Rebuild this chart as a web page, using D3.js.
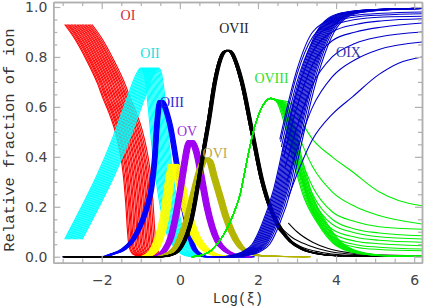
<!DOCTYPE html>
<html>
<head>
<meta charset="utf-8">
<script src="https://cdn.jsdelivr.net/npm/d3@7"></script>
<style>
  body { margin: 0; background: #fff; }
  svg { display: block; }
</style>
</head>
<body>
<div id="chart"></div>
<script>
// tick labels
const xTicks = [-2, 0, 2, 4, 6];
const xMinor = [-3, -2.5, -1.5, -1, -0.5, 0.5, 1, 1.5, 2.5, 3, 3.5, 4.5, 5, 5.5];
const yTicks = [0, 0.2, 0.4, 0.6, 0.8, 1.0];
const yMinor = [0.05, 0.1, 0.15, 0.25, 0.3, 0.35, 0.45, 0.5, 0.55, 0.65, 0.7, 0.75, 0.85, 0.9, 0.95];

// OI (leftmost curve of the family) and the offsets of the other curves
const oIBase = [[-2.95, 0.93], [-2.7, 0.875], [-2.39, 0.787], [-2.1, 0.69], [-1.97, 0.635], [-1.8, 0.57],
  [-1.67, 0.51], [-1.55, 0.43], [-1.45, 0.33], [-1.38, 0.2], [-1.34, 0.1], [-1.3, 0.04], [-1.2, 0.01], [-1.0, 0]];
const oIShifts = [0, 0.03, 0.07, 0.1, 0.13, 0.17, 0.2, 0.24, 0.27, 0.31, 0.34, 0.38, 0.41, 0.45, 0.48, 0.52, 0.55, 0.59, 0.62, 0.66, 0.7];

// OII
const oIIBase = [[-2.95, 0.07], [-2.56, 0.187], [-2.14, 0.32], [-1.71, 0.48], [-1.37, 0.627], [-1.11, 0.733],
  [-1.0, 0.755], [-0.93, 0.74], [-0.85, 0.66], [-0.78, 0.55], [-0.7, 0.42], [-0.6, 0.3], [-0.5, 0.2],
  [-0.35, 0.1], [-0.15, 0.04], [0.05, 0.01], [0.3, 0]];
const oIIShifts = [0, 0.03, 0.06, 0.09, 0.12, 0.15, 0.18, 0.21, 0.24, 0.27, 0.3, 0.33, 0.36, 0.39, 0.42, 0.45];

// OIII
const oIIIBase = [[-3.0, 0], [-2.0, 0], [-1.8, 0.01], [-1.5, 0.03], [-1.25, 0.07], [-1.02, 0.144], [-0.88, 0.21],
  [-0.78, 0.28], [-0.7, 0.4], [-0.65, 0.52], [-0.6, 0.6], [-0.55, 0.625], [-0.48, 0.615], [-0.4, 0.58],
  [-0.3, 0.52], [-0.2, 0.43], [-0.1, 0.33], [0.0, 0.23], [0.1, 0.15], [0.2, 0.08], [0.3, 0.035], [0.45, 0.01],
  [0.6, 0], [1.8, 0]];
const oIIIShifts = [0, 0.015, 0.03, 0.045, 0.06, 0.075, 0.09, 0.105, 0.12];

// OIV
const oIVBase = [[-1.0, 0], [-0.8, 0.02], [-0.65, 0.07], [-0.5, 0.16], [-0.4, 0.27], [-0.33, 0.34], [-0.28, 0.37],
  [-0.2, 0.36], [-0.1, 0.3], [0.0, 0.23], [0.15, 0.14], [0.3, 0.08], [0.5, 0.035], [0.75, 0.01], [1.1, 0]];
const oIVShifts = [0, 0.02, 0.04, 0.06, 0.08, 0.1, 0.12, 0.14, 0.16, 0.18, 0.2, 0.22];

// OV
const oVBase = [[-0.7, 0], [-0.45, 0.03], [-0.3, 0.08], [-0.17, 0.17], [-0.05, 0.28], [0.05, 0.38], [0.12, 0.44],
  [0.2, 0.465], [0.28, 0.45], [0.38, 0.4], [0.5, 0.3], [0.62, 0.2], [0.75, 0.12], [0.9, 0.06], [1.1, 0.025],
  [1.4, 0.005], [1.7, 0]];
const oVShifts = [0, 0.015, 0.03, 0.045, 0.06, 0.075, 0.09, 0.105, 0.12, 0.135, 0.15];

// OVI
const oVIBase = [[-0.6, 0], [-0.35, 0.015], [-0.17, 0.04], [0.0, 0.1], [0.09, 0.14], [0.26, 0.245], [0.4, 0.33],
  [0.5, 0.375], [0.58, 0.395], [0.68, 0.385], [0.8, 0.32], [0.95, 0.24], [1.1, 0.16], [1.25, 0.1],
  [1.45, 0.045], [1.7, 0.015], [2.1, 0.003], [3.2, 0]];
const oVIShifts = [0, 0.016, 0.032, 0.048, 0.064, 0.08, 0.096, 0.112, 0.128, 0.144, 0.16];

// OVII: common curve, small offsets, a few slower tails and one late curve
const oVIIBase = [[-3.0, 0], [-0.5, 0], [-0.2, 0.01], [0.0, 0.04], [0.15, 0.09], [0.26, 0.147], [0.44, 0.3],
  [0.6, 0.45], [0.7, 0.54], [0.86, 0.7], [1.0, 0.79], [1.1, 0.82], [1.2, 0.827], [1.3, 0.815], [1.42, 0.77],
  [1.55, 0.7], [1.8, 0.51], [2.06, 0.31], [2.32, 0.18], [2.57, 0.105], [2.8, 0.06], [3.1, 0.03], [3.5, 0.012],
  [4.0, 0.004], [6.2, 0.002]];
const oVIIShifts = [0, 0.01, 0.02, 0.03, 0.04, 0.05, 0.06, 0.07, 0.08];
const oVIITails = [
  [[2.45, 0.13], [2.75, 0.075], [3.1, 0.04], [3.6, 0.018], [4.2, 0.007], [6.2, 0.002]],
  [[2.5, 0.135], [2.85, 0.08], [3.3, 0.045], [3.8, 0.022], [4.4, 0.01], [5.2, 0.004], [6.2, 0.002]]
];
const oVIILate = [[2.78, 0.135], [3.0, 0.1], [3.4, 0.058], [3.8, 0.033], [4.3, 0.017], [5.0, 0.008], [6.2, 0.004]];

// OVIII: shared rise and crest, a dense group of steep falls, then split tails
const oVIIIHead = [[0.3, 0], [0.6, 0.008], [0.8, 0.025], [1.0, 0.06], [1.2, 0.11], [1.37, 0.17], [1.55, 0.254],
  [1.7, 0.37], [1.88, 0.5], [2.06, 0.585], [2.2, 0.622], [2.32, 0.634], [2.42, 0.63]];
const oVIIIFall = [[2.5, 0.615], [2.65, 0.547], [2.92, 0.374], [3.17, 0.24], [3.52, 0.135], [3.93, 0.053],
  [4.5, 0.015], [5.2, 0.004], [6.2, 0.002]];
const oVIIIFallShifts = [0, 0.03, 0.06, 0.09, 0.12, 0.15, 0.18, 0.21, 0.24];
const oVIIISplit = [
  [[2.6, 0.6], [3.0, 0.37], [3.4, 0.18], [3.9, 0.072], [4.5, 0.038], [5.1, 0.029], [6.2, 0.024]],
  [[2.6, 0.6], [3.0, 0.375], [3.4, 0.19], [3.9, 0.08], [4.5, 0.048], [5.1, 0.038], [6.2, 0.031]],
  [[2.62, 0.6], [3.0, 0.38], [3.4, 0.2], [3.9, 0.095], [4.5, 0.062], [5.1, 0.052], [6.2, 0.044]],
  [[2.64, 0.6], [3.0, 0.39], [3.4, 0.21], [3.9, 0.11], [4.5, 0.078], [5.1, 0.066], [6.2, 0.058]],
  [[2.66, 0.6], [3.0, 0.4], [3.4, 0.23], [3.9, 0.13], [4.5, 0.095], [5.1, 0.08], [6.2, 0.071]],
  [[2.68, 0.6], [3.0, 0.42], [3.4, 0.25], [3.9, 0.15], [4.5, 0.11], [5.1, 0.095], [6.2, 0.084]],
  [[2.7, 0.6], [3.0, 0.44], [3.4, 0.28], [3.9, 0.18], [4.5, 0.14], [5.1, 0.12], [6.2, 0.11]],
  [[2.74, 0.6], [3.0, 0.5], [3.4, 0.36], [3.9, 0.26], [4.5, 0.2], [5.1, 0.165], [6.2, 0.131]],
  [[2.78, 0.62], [3.0, 0.57], [3.4, 0.47], [3.9, 0.4], [4.42, 0.34], [5.1, 0.26], [5.6, 0.225], [6.2, 0.204]]
];

// OIX: dense bundle plus curves with lower plateaus
const oIXBase = [[0.8, 0], [1.0, 0], [1.3, 0.005], [1.6, 0.02], [1.85, 0.05], [2.1, 0.13], [2.4, 0.27], [2.66, 0.45],
  [2.92, 0.63], [3.17, 0.77], [3.5, 0.9], [3.8, 0.955], [4.2, 0.978], [5.0, 0.99], [6.2, 0.995]];
const oIXShifts = [0, 0.03, 0.06, 0.09, 0.12, 0.15, 0.18, 0.21, 0.24, 0.27, 0.3, 0.33, 0.36, 0.4, 0.45];
const oIXLate = [
  [[2.78, 0.24], [3.0, 0.33], [3.4, 0.47], [3.9, 0.57], [4.42, 0.64], [5.1, 0.73], [5.6, 0.775], [6.2, 0.8]],
  [[2.74, 0.3], [3.0, 0.43], [3.4, 0.6], [3.9, 0.72], [4.5, 0.79], [5.1, 0.83], [6.2, 0.86]],
  [[2.7, 0.36], [3.0, 0.52], [3.4, 0.69], [3.9, 0.8], [4.5, 0.855], [5.1, 0.88], [6.2, 0.9]],
  [[2.66, 0.4], [3.0, 0.6], [3.4, 0.77], [3.9, 0.865], [4.5, 0.9], [5.2, 0.92], [6.2, 0.936]],
  [[2.62, 0.42], [3.0, 0.66], [3.4, 0.82], [3.9, 0.9], [4.5, 0.93], [5.2, 0.945], [6.2, 0.953]],
  [[2.6, 0.44], [3.0, 0.7], [3.4, 0.86], [3.9, 0.925], [4.5, 0.95], [5.2, 0.96], [6.2, 0.963]],
  [[2.58, 0.46], [3.0, 0.73], [3.4, 0.88], [3.9, 0.94], [4.5, 0.96], [5.2, 0.968], [6.2, 0.973]],
  [[2.56, 0.47], [3.0, 0.75], [3.4, 0.9], [3.9, 0.95], [4.5, 0.967], [5.2, 0.975], [6.2, 0.98]]
];

const ionLabels = ['OI', 'OII', 'OIII', 'OV', 'OVI', 'OVII', 'OVIII', 'OIX'];

const width = 424, height = 308;
const svg = d3.select('#chart').append('svg').attr('width', width).attr('height', height);

const x = d3.scaleLinear().domain([-3.24, 6.2]).range([53.3, 422]);
const y = d3.scaleLinear().domain([-0.024, 1.02]).range([262.7, 2]);

svg.append('clipPath').attr('id', 'plot').append('rect')
  .attr('x', 53.3).attr('y', 2).attr('width', 422 - 53.3).attr('height', 262.7 - 2);

const plot = svg.append('g').attr('clip-path', 'url(#plot)');

const line = d3.line().x(d => x(d[0])).y(d => y(d[1])).curve(d3.curveMonotoneX);

function drawCurve(pts, color) {
  plot.append('path').datum(pts)
    .attr('d', line)
    .attr('fill', 'none')
    .attr('stroke', color)
    .attr('stroke-width', 1.1);
}

function shifted(base, dx) {
  return base.map(p => [p[0] + dx, p[1]]);
}

function drawFamily(base, shifts, color) {
  shifts.forEach(dx => drawCurve(shifted(base, dx), color));
}

function joinTail(head, tail) {
  return head.filter(p => p[0] < tail[0][0]).concat(tail);
}

// drawing order like the original: OI first, OIX last
drawFamily(oIBase, oIShifts, '#ff0000');
drawFamily(oIIBase, oIIShifts, '#00ffff');
drawFamily(oIIIBase, oIIIShifts, '#0000ff');
drawFamily(oIVBase, oIVShifts, '#ffff00');
drawFamily(oVBase, oVShifts, '#a000f0');
drawFamily(oVIBase, oVIShifts, '#b4b400');
drawFamily(oVIIBase, oVIIShifts, '#000000');
oVIITails.forEach(t => drawCurve(joinTail(oVIIBase, t), '#000000'));
drawCurve(oVIILate, '#000000');
oVIIIFallShifts.forEach(dx => drawCurve(joinTail(oVIIIHead, shifted(oVIIIFall, dx)), '#00ee00'));
oVIIISplit.forEach(t => drawCurve(joinTail(oVIIIHead, t), '#00ee00'));
drawFamily(oIXBase, oIXShifts, '#0000cc');
oIXLate.forEach(c => drawCurve(c, '#0000cc'));

// axes: ticks point inward, box on all four sides
const axisColor = '#b0b0b0';
function styleAxis(g) {
  g.select('.domain').attr('stroke', axisColor).attr('stroke-width', 1.5);
  g.selectAll('.tick line').attr('stroke', axisColor).attr('stroke-width', 1.2);
  g.selectAll('.tick text').attr('fill', '#444')
    .style('font-family', 'DejaVu Sans').style('font-size', '14px');
}

svg.append('g').attr('transform', 'translate(0,262.7)')
  .call(d3.axisBottom(x).tickValues(xTicks).tickSize(-7).tickSizeOuter(0).tickPadding(12).tickFormat(d3.format('d')))
  .call(styleAxis);
svg.append('g').attr('transform', 'translate(0,262.7)')
  .call(d3.axisBottom(x).tickValues(xMinor).tickSize(-4).tickSizeOuter(0).tickFormat(''))
  .call(styleAxis);
svg.append('g').attr('transform', 'translate(0,2)')
  .call(d3.axisTop(x).tickValues(xTicks).tickSize(-7).tickSizeOuter(0).tickFormat(''))
  .call(styleAxis);
svg.append('g').attr('transform', 'translate(0,2)')
  .call(d3.axisTop(x).tickValues(xMinor).tickSize(-4).tickSizeOuter(0).tickFormat(''))
  .call(styleAxis);

svg.append('g').attr('transform', 'translate(53.3,0)')
  .call(d3.axisLeft(y).tickValues(yTicks).tickSize(-7).tickSizeOuter(0).tickPadding(6).tickFormat(d3.format('.1f')))
  .call(styleAxis);
svg.append('g').attr('transform', 'translate(53.3,0)')
  .call(d3.axisLeft(y).tickValues(yMinor).tickSize(-4).tickSizeOuter(0).tickFormat(''))
  .call(styleAxis);
svg.append('g').attr('transform', 'translate(422,0)')
  .call(d3.axisRight(y).tickValues(yTicks).tickSize(-7).tickSizeOuter(0).tickFormat(''))
  .call(styleAxis);
svg.append('g').attr('transform', 'translate(422,0)')
  .call(d3.axisRight(y).tickValues(yMinor).tickSize(-4).tickSizeOuter(0).tickFormat(''))
  .call(styleAxis);

// axis titles
svg.append('text')
  .attr('transform', 'translate(14,140) rotate(-90)')
  .attr('text-anchor', 'middle')
  .style('font-family', 'Liberation Mono').style('font-size', '15.5px').attr('fill', '#333')
  .text('Relative fraction of ion');
svg.append('text')
  .attr('x', 238).attr('y', 303)
  .attr('text-anchor', 'middle')
  .style('font-family', 'Liberation Mono').style('font-size', '14px').attr('fill', '#333')
  .text('Log(ξ)');

// ion labels
const labelPos = [[128, 20], [150, 57.5], [172, 107], [187, 136], [215, 158], [234, 33], [271.5, 83], [348.5, 57]];
const labelColor = ['#d42a3a', '#22e0e0', '#2a2ad8', '#a030e0', '#b8a850', '#222222', '#30e030', '#3535a8'];
ionLabels.forEach((t, i) => {
  svg.append('text')
    .attr('x', labelPos[i][0]).attr('y', labelPos[i][1])
    .attr('text-anchor', 'middle')
    .style('font-family', 'Liberation Serif').style('font-size', '14px')
    .attr('fill', labelColor[i])
    .text(t);
});
</script>
</body>
</html>
